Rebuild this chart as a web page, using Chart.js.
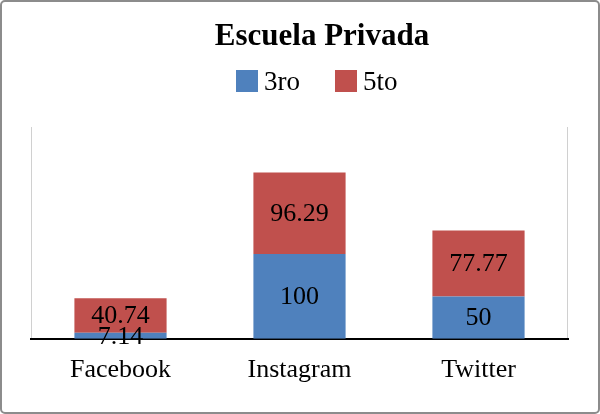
<!DOCTYPE html>
<html lang="es">
<head>
  <meta charset="UTF-8">
  <title>Escuela Privada</title>
  <script src="https://cdn.jsdelivr.net/npm/chart.js"></script>
  <style>
    body { margin: 0; padding: 0; background: #fff; }
    #wrap { width: 600px; height: 414px; position: relative; }
  </style>
</head>
<body>
  <div id="wrap">
    <canvas id="chart"></canvas>
  </div>
  <script>
    // data
    const categories = ['Facebook', 'Instagram', 'Twitter'];
    const tercero = [7.14, 100, 50];
    const quinto = [40.74, 96.29, 77.77];
    const yMax = 250;

    const serif = "'Liberation Serif', 'DejaVu Serif', serif";

    // outer frame + plot side lines
    const framePlugin = {
      id: 'frame',
      beforeDraw(chart) {
        const ctx = chart.ctx;
        ctx.save();
        ctx.fillStyle = '#fff';
        ctx.fillRect(0, 0, chart.width, chart.height);
        ctx.strokeStyle = '#8c8c8c';
        ctx.lineWidth = 2;
        ctx.beginPath();
        ctx.roundRect(1, 1, chart.width - 2, chart.height - 2, 4);
        ctx.stroke();
        const a = chart.chartArea;
        ctx.strokeStyle = '#d0d0d0';
        ctx.lineWidth = 1;
        ctx.beginPath();
        ctx.moveTo(a.left + 0.5, a.top);
        ctx.lineTo(a.left + 0.5, a.bottom);
        ctx.moveTo(a.right - 0.5, a.top);
        ctx.lineTo(a.right - 0.5, a.bottom);
        ctx.stroke();
        ctx.restore();
      }
    };

    // title and legend sit right of centre in the original, so draw them here
    const headerPlugin = {
      id: 'header',
      afterDraw(chart) {
        const ctx = chart.ctx;
        ctx.save();
        ctx.fillStyle = '#000';
        ctx.textAlign = 'center';
        ctx.textBaseline = 'alphabetic';
        ctx.font = 'bold 31px ' + serif;
        ctx.fillText('Escuela Privada', 322, 45);

        ctx.font = '27px ' + serif;
        ctx.textAlign = 'left';
        let x = 236;
        chart.data.datasets.forEach(ds => {
          ctx.fillStyle = ds.backgroundColor;
          ctx.fillRect(x, 70, 22, 22);
          ctx.fillStyle = '#000';
          ctx.fillText(ds.label, x + 28, 90);
          x += 28 + ctx.measureText(ds.label).width + 35;
        });
        ctx.restore();
      }
    };

    // value labels in the middle of each segment
    const labelPlugin = {
      id: 'valueLabels',
      afterDatasetsDraw(chart) {
        const ctx = chart.ctx;
        ctx.save();
        ctx.font = '26px ' + serif;
        ctx.fillStyle = '#000';
        ctx.textAlign = 'center';
        ctx.textBaseline = 'middle';
        chart.data.datasets.forEach((ds, i) => {
          chart.getDatasetMeta(i).data.forEach((bar, j) => {
            const mid = (bar.y + bar.base) / 2;
            ctx.fillText(String(ds.data[j]), bar.x, mid + 1);
          });
        });
        ctx.restore();
      }
    };

    new Chart(document.getElementById('chart'), {
      type: 'bar',
      data: {
        labels: categories,
        datasets: [
          { label: '3ro', data: tercero, backgroundColor: '#4F81BD' },
          { label: '5to', data: quinto, backgroundColor: '#C0504D' }
        ]
      },
      options: {
        responsive: true,
        maintainAspectRatio: false,
        animation: false,
        layout: { padding: { top: 127, left: 31, right: 32, bottom: 20 } },
        datasets: { bar: { categoryPercentage: 1, barPercentage: 0.515 } },
        plugins: {
          title: { display: false },
          legend: { display: false },
          tooltip: { enabled: false }
        },
        scales: {
          x: {
            stacked: true,
            grid: { display: false },
            border: { display: true, color: '#000', width: 2 },
            ticks: { color: '#000', font: { family: serif, size: 26 }, padding: 8 }
          },
          y: {
            stacked: true,
            display: false,
            min: 0,
            max: yMax
          }
        }
      },
      plugins: [framePlugin, labelPlugin, headerPlugin]
    });
  </script>
</body>
</html>
